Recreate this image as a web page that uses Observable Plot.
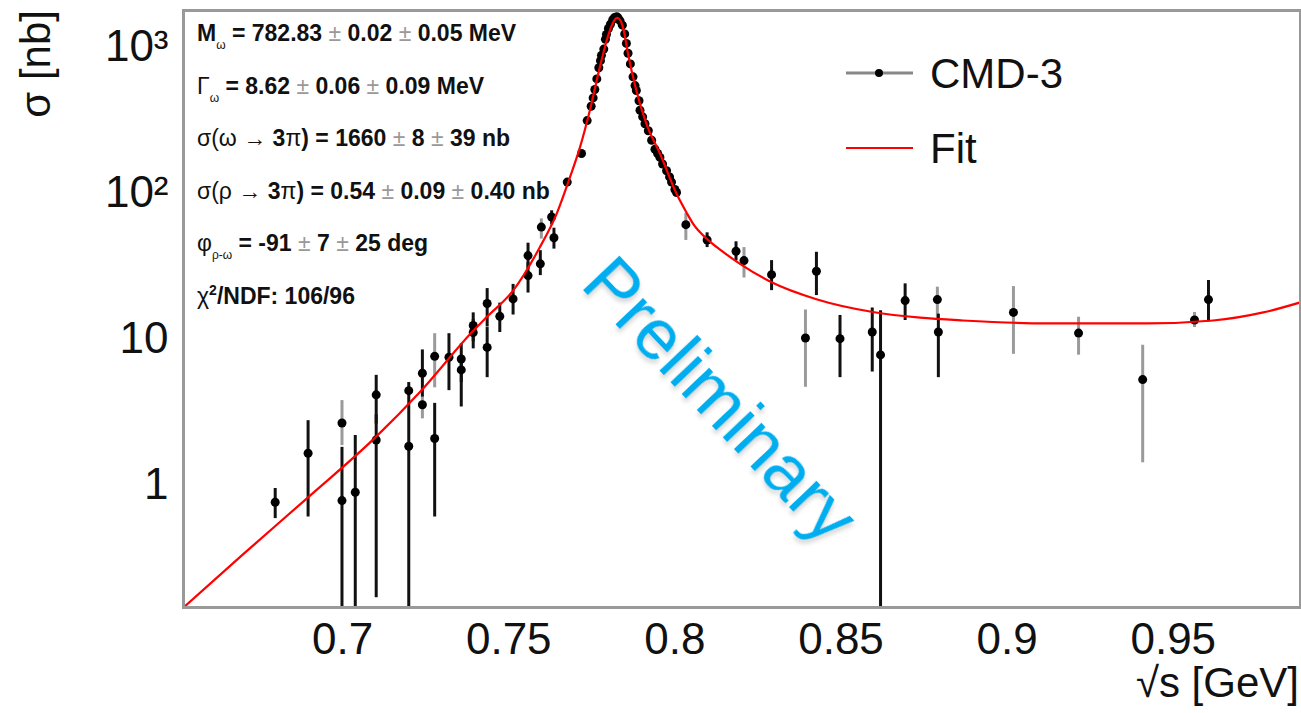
<!DOCTYPE html>
<html><head><meta charset="utf-8">
<script src="https://cdn.jsdelivr.net/npm/d3@7"></script>
<script src="https://cdn.jsdelivr.net/npm/@observablehq/plot@0.6"></script>
<style>
html,body{margin:0;padding:0;background:#fff;}
#chart{width:1301px;height:713px;}
</style></head><body><div id="chart"></div>
<script>
// ---- data ----
const energy = [0.6797,0.6896,0.6998,0.6998,0.7038,0.7101,0.7101,0.7199,0.7199,0.7240,0.7240,0.7277,0.7277,0.7320,0.7357,0.7357,0.7393,0.7393,0.7435,0.7435,0.7473,0.7513,0.7558,0.7558,0.7595,0.7598,0.7629,0.7636,
 0.7676,0.7719,0.7736,0.7748,0.7754,0.7759,0.7765,0.7771,0.7776,0.7779,0.7786,0.7791,0.7794,0.7800,0.7806,0.7813,0.7819,0.7825,0.7829,0.7835,0.7842,0.7849,0.7854,0.7859,0.7866,0.7874,0.7880,0.7884,0.7892,0.7895,0.7903,0.7910,0.7920,0.7930,0.7940,0.7948,0.7955,0.7963,0.7975,0.7984,0.7990,0.8000,0.8005,
 0.8033,0.8097,0.8184,0.8208,0.8291,0.8393,0.8426,0.8497,0.8594,0.8619,0.8693,0.8790,0.8793,0.9019,0.9215,0.9408,0.9564,0.9606];
const sigma = [0.757,1.64,2.64,0.777,0.886,4.12,2.02,4.40,1.83,5.79,3.52,7.56,2.07,7.45,7.25,6.10,12.3,11.0,17.4,8.7,14.2,18.7,27.0,37.0,32.5,58.0,68.0,49.0,
 118,185,311,390,445,508,600,715,800,870,960,1120,1210,1330,1420,1530,1580,1600,1570,1500,1400,1220,1050,900,760,620,540,500,425,366,330,296,265,228,198,185,174,157,141,128,118,105,100,
 60.3,47.3,39.6,34.2,27.4,10.1,28.9,9.99,11.1,7.73,18.2,18.5,11.1,15.1,10.9,5.24,13.4,18.5];
const errLow = [0.585,0.60,1.85,0.05,0.05,2.6,0.168,2.5,0.05,3.96,2.82,4.6,0.60,4.4,5.0,3.4,9.5,8.5,12.0,5.4,11.0,14.5,20.5,30.0,27.0,48.0,60.0,41.0,
 null,null,null,null,null,null,null,null,null,null,null,null,null,null,null,null,null,null,null,null,null,null,null,null,null,null,null,null,null,null,null,null,null,null,null,null,null,null,null,null,null,null,null,
 47,42,34,26,21.3,4.64,19.7,5.4,5.9,0.05,13.3,13.5,5.4,7.8,7.7,1.41,11.9,13.0];
const errHigh = [0.94,2.74,3.76,1.80,2.17,5.6,3.0,5.0,2.5,8.36,3.96,10.8,3.6,10.8,9.2,7.5,15.0,13.5,22.0,11.9,17.5,23.5,33.0,45.0,40.0,66.0,75.0,57.0,
 null,null,null,null,null,null,null,null,null,null,null,null,null,null,null,null,null,null,null,null,null,null,null,null,null,null,null,null,null,null,null,null,null,null,null,null,null,null,null,null,null,null,null,
 72,53,46,42,34.2,15.7,39,14.4,16.2,15.5,23.7,22.5,14.7,22.7,14.0,9.0,15.1,25.0];
const barTone = ["dark","dark","light","dark","dark","dark","dark","dark","dark","dark","light","light","dark","dark","dark","dark","dark","dark","dark","dark","dark","dark","dark","dark","dark","light","dark","dark",
 "dark","dark","dark","dark","dark","dark","dark","dark","dark","dark","dark","dark","dark","dark","dark","dark","dark","dark","dark","dark","dark","dark","dark","dark","dark","dark","dark","dark","dark","dark","dark","dark","dark","dark","dark","dark","dark","dark","dark","dark","dark","dark","dark",
 "light","dark","dark","light","dark","light","dark","dark","dark","dark","dark","light","dark","light","light","light","light","dark"];

const fitEnergy = [0.6521,0.6700,0.6896,0.7101,0.7232,0.7393,0.7433,0.7513,0.7593,0.7644,0.7684,0.7714,0.7744,0.7774,0.7799,0.7814,0.7826,0.7836,0.7846,0.7859,0.7884,0.7914,0.7955,0.8005,0.8035,0.8055,0.8097,0.8140,0.8196,0.8291,0.8426,0.8596,0.8738,0.8867,0.9118,0.9420,0.9620,0.9771,0.9883];
const fitSigma = [0.144,0.333,0.818,2.13,4.29,11.3,14.0,21.3,42,71.5,127,203,365,720,1185,1460,1570,1510,1290,890,500,296,185,98,73,61,48,40,32.5,24.3,18.6,15.2,13.9,13.3,12.7,12.7,13.3,15.1,17.7];

const xTicks = [0.7,0.75,0.8,0.85,0.9,0.95];
const xTickLabels = ["0.7","0.75","0.8","0.85","0.9","0.95"];
const yTicks = [1,10,100,1000];
const yTickLabels = ["1","10","10\u00B2","10\u00B3"];

const legendLabels = ["CMD-3","Fit"];
const xTitle = "\u221As [GeV]";
const yTitle = "\u03C3 [nb]";
const watermark = "Preliminary";
const statLines = [
  [["t","M"],["sub","\u03C9"],["t"," = 782.83 "],["pm"],["t"," 0.02 "],["pm"],["t"," 0.05 MeV"]],
  [["g","\u0393"],["sub","\u03C9"],["t"," = 8.62 "],["pm"],["t"," 0.06 "],["pm"],["t"," 0.09 MeV"]],
  [["g","\u03C3(\u03C9 \u2192 "],["t","3"],["g","\u03C0"],["t",") = 1660 "],["pm"],["t"," 8 "],["pm"],["t"," 39 nb"]],
  [["g","\u03C3(\u03C1 \u2192 "],["t","3"],["g","\u03C0"],["t",") = 0.54 "],["pm"],["t"," 0.09 "],["pm"],["t"," 0.40 nb"]],
  [["g","\u03C6"],["sub","\u03C1-\u03C9"],["t"," = -91 "],["pm"],["t"," 7 "],["pm"],["t"," 25 deg"]],
  [["g","\u03C7"],["sup","2"],["t","/NDF: 106/96"]]
];

// ---- build ----
const pts = energy.map((e,i)=>({x:e, y:sigma[i], lo:errLow[i], hi:errHigh[i], tone:barTone[i]}));
const fit = fitEnergy.map((e,i)=>({x:e, y:fitSigma[i]}));
const xLab = new Map(xTicks.map((t,i)=>[t,xTickLabels[i]]));
const yLab = new Map(yTicks.map((t,i)=>[t,yTickLabels[i]]));
const toneColor = {dark:"#111", light:"#9a9a9a"};
const FONT = "'Liberation Sans', Arial, Helvetica, sans-serif";

const svgEl = Plot.plot({
  width:1301, height:713,
  marginLeft:183, marginRight:1, marginTop:10, marginBottom:106,
  style:{fontFamily:FONT, fontSize:"44px", background:"#fff", color:"#111"},
  x:{domain:[0.6521,0.9883], ticks:xTicks, tickFormat:d=>xLab.get(d), label:null, tickSize:0, tickPadding:15},
  y:{type:"log", domain:[0.144,1765], ticks:yTicks, tickFormat:d=>yLab.get(d), label:null, tickSize:0, tickPadding:15},
  marks:[
    Plot.ruleX(pts.filter(d=>d.lo!=null), {x:"x", y1:"lo", y2:"hi", stroke:d=>toneColor[d.tone], strokeWidth:3, clip:true}),
    Plot.dot(pts, {x:"x", y:"y", r:4.5, fill:"#000", stroke:"none"}),
    Plot.line(fit, {x:"x", y:"y", stroke:"#ff0000", strokeWidth:2.2, curve:"monotone-x", clip:true}),
    Plot.frame({stroke:"#999", strokeWidth:3})
  ]
});
document.getElementById("chart").appendChild(svgEl);
const svg = d3.select(svgEl);

// statistics box
const g = svg.append("g").attr("font-family",FONT).attr("font-size",23).attr("font-weight","bold")
  .attr("fill","#111").attr("text-anchor","start").style("white-space","pre");
statLines.forEach((segs,li)=>{
  const t = g.append("text").attr("x",197).attr("y",41 + li*52.6);
  let pending = 0;
  for (const s of segs){
    let sp;
    if (s[0]==="t") sp = t.append("tspan").text(s[1]);
    else if (s[0]==="g") sp = t.append("tspan").attr("font-weight","normal").text(s[1]);
    else if (s[0]==="pm") sp = t.append("tspan").attr("font-weight","normal").attr("fill","#999").text("\u00B1");
    else if (s[0]==="sub"){ sp = t.append("tspan").attr("font-size",12).attr("font-weight","normal").text(s[1]); sp.attr("dy", pending + 8); pending = -8; continue; }
    else if (s[0]==="sup"){ sp = t.append("tspan").attr("font-size",14).text(s[1]); sp.attr("dy", pending - 9); pending = 9; continue; }
    if (pending){ sp.attr("dy", pending); pending = 0; }
  }
});

// legend
const lg = svg.append("g").attr("font-family",FONT).attr("font-size",42).attr("fill","#111").attr("text-anchor","start");
lg.append("line").attr("x1",846).attr("x2",913).attr("y1",73).attr("y2",73).attr("stroke","#888").attr("stroke-width",3);
lg.append("circle").attr("cx",879).attr("cy",73).attr("r",4).attr("fill","#000");
lg.append("text").attr("x",930).attr("y",88).text(legendLabels[0]);
lg.append("line").attr("x1",846).attr("x2",913).attr("y1",148).attr("y2",148).attr("stroke","#ff0000").attr("stroke-width",2);
lg.append("text").attr("x",930).attr("y",163).text(legendLabels[1]);

// axis titles
svg.append("text").attr("font-family",FONT).attr("font-size",42).attr("fill","#111")
  .attr("text-anchor","end").attr("transform","translate(50,10) rotate(-90)").text(yTitle);
svg.append("text").attr("font-family",FONT).attr("font-size",42).attr("fill","#111")
  .attr("text-anchor","end").attr("x",1299).attr("y",697).text(xTitle);

// watermark
svg.append("text").attr("font-family",FONT).attr("font-size",72).attr("fill","#00AEEF")
  .attr("text-anchor","middle").attr("dy","0.25em")
  .attr("transform","translate(716,404) rotate(46.5)")
  .style("filter","drop-shadow(3px 3px 2px rgba(0,0,0,0.15))")
  .text(watermark);
</script></body></html>
